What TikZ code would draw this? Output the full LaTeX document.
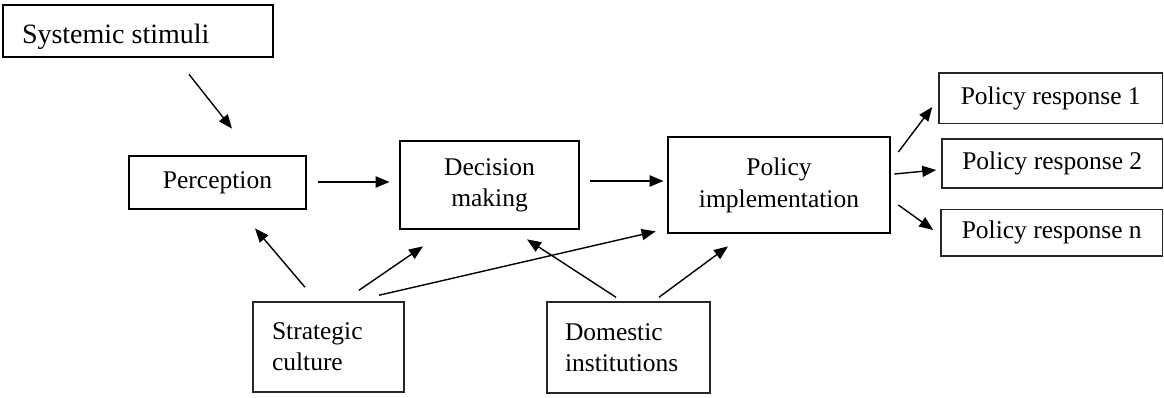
\documentclass[tikz,border=0pt]{standalone}
\usepackage{fontspec}
\setmainfont{Liberation Serif}
\usetikzlibrary{arrows.meta,calc}
\begin{document}
\begin{tikzpicture}[x=1pt,y=-1pt,
  thickbox/.style={draw=black, line width=2.7pt, inner sep=0pt, font=\fontsize{25.5}{31}\selectfont, align=center},
  thinbox/.style={draw=black!85, line width=1.5pt, inner sep=0pt, font=\fontsize{25.5}{31}\selectfont, align=center},
  arr/.style={-{Triangle[length=14pt,width=11pt]}, line width=1.4pt},
  arrb/.style={arr, line width=2.2pt}]
\useasboundingbox (0,0) rectangle (1164,397);

\node[thickbox, minimum width=270pt, minimum height=52pt, font=\fontsize{28}{33}\selectfont, text width=232pt, inner xsep=19pt, align=flush left, text height=24pt, text depth=0pt] (ss) at (138,31) {Systemic stimuli};
\node[thickbox, minimum width=177pt, minimum height=53pt] (per) at (217.5,182.5) {Perception};
\node[thickbox, minimum width=179pt, minimum height=88pt] (dec) at (489.5,185) {Decision\\making};
\node[thickbox, minimum width=222pt, minimum height=96pt, font=\fontsize{25.5}{32}\selectfont] (imp) at (779,185) {Policy\\implementation};
\node[thinbox, minimum width=223.5pt, minimum height=50.5pt] (r1) at (1050.75,98) {Policy response 1};
\node[thinbox, minimum width=220.5pt, minimum height=49pt] (r2) at (1052.25,163.5) {Policy response 2};
\node[thinbox, minimum width=221.5pt, minimum height=46.5pt] (rn) at (1051.75,232.5) {Policy response n};
\node[thinbox, minimum width=151pt, minimum height=90pt, text width=113pt, inner xsep=19pt, align=flush left] (sc) at (328.5,347) {Strategic\\culture};
\node[thinbox, minimum width=163pt, minimum height=91pt, text width=127pt, inner xsep=18pt, align=flush left] (di) at (628.5,347.5) {Domestic\\institutions};

\draw[arr] ([shift={(51,16)}]ss.south) -- ([shift={(14.5,-26)}]per.north);
\draw[arrb] ([shift={(11,-0.5)}]per.east) -- ([shift={(-9,-3)}]dec.west);
\draw[arrb] ([shift={(10,-4)}]dec.east) -- ([shift={(-3,-4)}]imp.west);
\draw[arr] ([shift={(7,-33)}]imp.east) -- ([shift={(-6,9)}]r1.west);
\draw[arr] ([shift={(3,-11)}]imp.east) -- ([shift={(-5,6.5)}]r2.west);
\draw[arr] ([shift={(7,20)}]imp.east) -- ([shift={(-7,-2.5)}]rn.west);
\draw[arr] ([shift={(-23.5,-14)}]sc.north) -- ([shift={(37.5,18)}]per.south);
\draw[arr] ([shift={(30.5,-11)}]sc.north) -- ([shift={(-66.5,16)}]dec.south);
\draw[arr] ([shift={(50.5,-6)}]sc.north) -- ([shift={(-11,-3)}]imp.south west);
\draw[arr] ([shift={(-12.5,-4)}]di.north) -- ([shift={(37.5,9)}]dec.south);
\draw[arr] ([shift={(30.5,-4)}]di.north) -- ([shift={(-51,12)}]imp.south);
\end{tikzpicture}
\end{document}
